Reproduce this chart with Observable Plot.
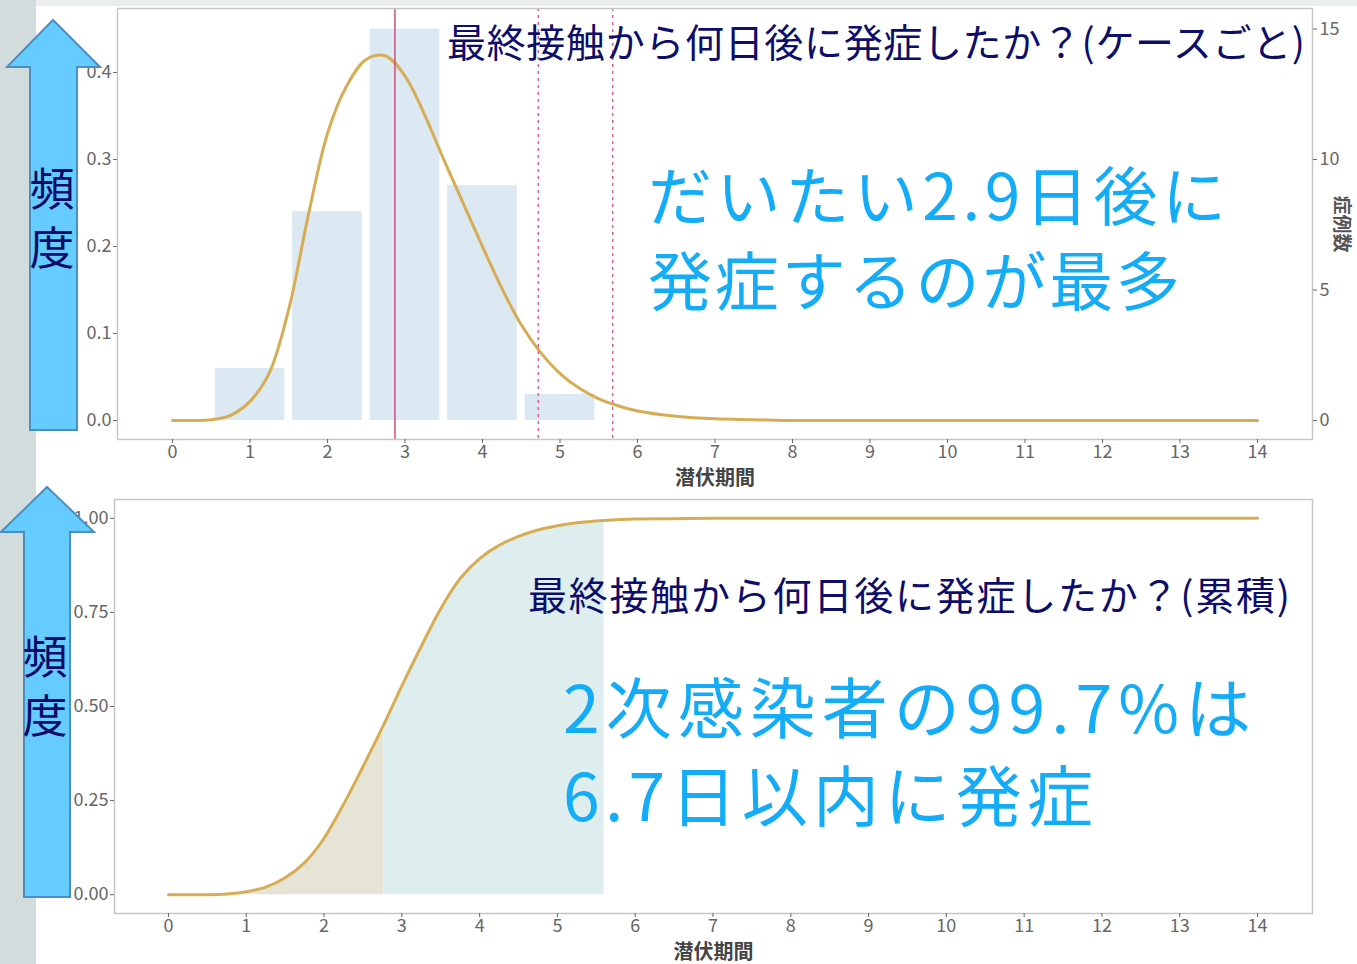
<!DOCTYPE html>
<html>
<head>
<meta charset="utf-8">
<script src="https://cdn.jsdelivr.net/npm/d3@7"></script>
<script src="https://cdn.jsdelivr.net/npm/@observablehq/plot@0.6"></script>
<style>
html, body { margin: 0; padding: 0; background: #fff; overflow: hidden; }
#page { position: relative; width: 1357px; height: 964px; background: #fff; font-family: "Noto Sans CJK JP", sans-serif; }
#strip { position: absolute; left: 0; top: 0; width: 36px; height: 964px; background: #d3dcdc; }
#topband { position: absolute; left: 36px; top: 0; width: 1321px; height: 6px; background: #eceeee; }
#topChart { position: absolute; left: 0; top: 0; }
#bottomChart { position: absolute; left: 0; top: 480px; }
#overlay { position: absolute; left: 0; top: 0; pointer-events: none; }
#overlay text { font-family: "Noto Sans CJK JP", sans-serif; dominant-baseline: central; }
#overlay text.vert { writing-mode: vertical-rl; text-orientation: upright; }
</style>
</head>
<body>
<div id="page">
  <div id="strip"></div>
  <div id="topband"></div>
  <div id="topChart"></div>
  <div id="bottomChart"></div>
  <svg id="overlay" width="1357" height="964"></svg>
</div>
<script>
// ---------- data ----------
const barDays = [1, 2, 3, 4, 5];
const caseCounts = [2, 8, 15, 9, 1];
const countToDensity = 0.03;          // secondary (right) axis factor: density per case
const modeDay = [2.87];               // solid vertical line
const dashedDays = [4.72, 5.68];      // dotted vertical lines

const pdfX = [0, 0.25, 0.5, 0.75, 1, 1.25, 1.5, 1.75, 2, 2.25, 2.5, 2.75, 3, 3.25, 3.5, 3.75, 4, 4.25, 4.5, 4.75, 5, 5.25, 5.5, 5.75, 6, 6.5, 7, 7.5, 8, 9, 10, 11, 12, 13, 14];
const pdfY = [0, 0, 0.001, 0.006, 0.022, 0.055, 0.128, 0.235, 0.330, 0.385, 0.415, 0.419, 0.396, 0.352, 0.300, 0.250, 0.200, 0.152, 0.110, 0.078, 0.054, 0.037, 0.025, 0.017, 0.011, 0.005, 0.002, 0.001, 0, 0, 0, 0, 0, 0, 0];

const cdfX = [0, 0.25, 0.5, 0.75, 1, 1.25, 1.5, 1.75, 2, 2.25, 2.5, 2.77, 3, 3.25, 3.5, 3.75, 4, 4.25, 4.5, 4.75, 5, 5.25, 5.6, 6, 6.5, 7, 8, 9, 10, 11, 12, 13, 14];
const cdfY = [0, 0, 0, 0.002, 0.008, 0.02, 0.045, 0.085, 0.15, 0.24, 0.34, 0.453, 0.555, 0.66, 0.76, 0.84, 0.893, 0.928, 0.952, 0.969, 0.98, 0.988, 0.994, 0.998, 0.999, 1, 1, 1, 1, 1, 1, 1, 1];
const shadeSplit = 2.77;
const shadeEnd = 5.6;

const xTicks = [0, 1, 2, 3, 4, 5, 6, 7, 8, 9, 10, 11, 12, 13, 14];
const densityTicks = [0, 0.1, 0.2, 0.3, 0.4];
const countTicks = [0, 5, 10, 15];
const cumTicks = [0, 0.25, 0.5, 0.75, 1];

const xTitle = "潜伏期間";
const rightTitle = "症例数";
const yArrowLabel = "頻度";
const titles = ["最終接触から何日後に発症したか？(ケースごと)", "最終接触から何日後に発症したか？(累積)"];
const topNotes = ["だいたい2.9日後に", "発症するのが最多"];
const bottomNotes = ["2次感染者の99.7%は", "6.7日以内に発症"];

// ---------- tables ----------
const bars = barDays.map((day, i) => ({day, count: caseCounts[i]}));
const pdf = pdfX.map((x, i) => ({x, y: pdfY[i]}));
const cdf = cdfX.map((x, i) => ({x, y: cdfY[i]}));

const font = '"Noto Sans CJK JP", sans-serif';
const baseStyle = {background: "transparent", color: "#666", fontFamily: font, fontSize: "18px"};
const k = countToDensity;
const curveColor = "#d6ad55";

const topPlot = Plot.plot({
  width: 1357, height: 490,
  marginLeft: 117, marginRight: 45, marginTop: 8, marginBottom: 51,
  style: baseStyle,
  x: {domain: [-0.71, 14.71]},
  y: {domain: [-0.0218, 0.4736]},
  marks: [
    Plot.rectY(bars, {x1: d => d.day - 0.45, x2: d => d.day + 0.45, y1: 0, y2: d => d.count * k, fill: "#dce9f2"}),
    Plot.lineY(pdf, {x: "x", y: "y", stroke: curveColor, strokeWidth: 3, curve: "catmull-rom"}),
    Plot.ruleX(modeDay, {stroke: "#c8507a", strokeWidth: 1.5}),
    Plot.ruleX(dashedDays, {stroke: "#e0609a", strokeWidth: 1.5, strokeDasharray: "3,4"}),
    Plot.frame({stroke: "#c6c6c6", strokeWidth: 1.5}),
    Plot.axisX({ticks: xTicks, tickSize: 4, tickPadding: 2, label: null, tickFormat: d3.format("d")}),
    Plot.axisY({ticks: densityTicks, tickSize: 4, tickPadding: 2, label: null, tickFormat: d3.format(".1f")}),
    Plot.axisY({anchor: "right", ticks: countTicks.map(c => c * k), tickFormat: d => String(Math.round(d / k)), tickSize: 4, tickPadding: 3, label: null}),
    Plot.text([xTitle], {text: d => d, frameAnchor: "bottom", lineAnchor: "middle", dy: 39, fontSize: 20, fontWeight: "bold", fill: "#444"}),
    Plot.text([rightTitle], {text: d => d, frameAnchor: "right", textAnchor: "middle", lineAnchor: "middle", dx: 29, rotate: 90, fontSize: 19, fontWeight: "bold", fill: "#555"})
  ]
});
document.getElementById("topChart").appendChild(topPlot);

const bottomPlot = Plot.plot({
  width: 1357, height: 484,
  marginLeft: 114, marginRight: 45, marginTop: 19, marginBottom: 51,
  style: baseStyle,
  x: {domain: [-0.694, 14.707]},
  y: {domain: [-0.05, 1.05]},
  marks: [
    Plot.areaY(cdf.filter(d => d.x <= shadeSplit), {x: "x", y: "y", fill: "#e5e4d6", curve: "catmull-rom"}),
    Plot.areaY(cdf.filter(d => d.x >= shadeSplit && d.x <= shadeEnd), {x: "x", y: "y", fill: "#deeeee", curve: "catmull-rom"}),
    Plot.lineY(cdf, {x: "x", y: "y", stroke: curveColor, strokeWidth: 3, curve: "catmull-rom"}),
    Plot.frame({stroke: "#c6c6c6", strokeWidth: 1.5}),
    Plot.axisX({ticks: xTicks, tickSize: 4, tickPadding: 2, label: null, tickFormat: d3.format("d")}),
    Plot.axisY({ticks: cumTicks, tickSize: 4, tickPadding: 2, label: null, tickFormat: d3.format(".2f")}),
    Plot.text([xTitle], {text: d => d, frameAnchor: "bottom", lineAnchor: "middle", dy: 39, fontSize: 20, fontWeight: "bold", fill: "#444"})
  ]
});
document.getElementById("bottomChart").appendChild(bottomPlot);

// ---------- slide overlays (arrows and annotation text) ----------
const ov = d3.select("#overlay");
const arrows = [
  "53,20 100,67 77,67 77,430 30,430 30,67 7,67",
  "47,487 94,532 70,532 70,897 24,897 24,532 1,532"
];
arrows.forEach(p => ov.append("polygon").attr("points", p).attr("fill", "#66ccff").attr("stroke", "#4a8fc2").attr("stroke-width", 2));

const arrowText = [
  {cx: 52, top: 166},
  {cx: 45, top: 634}
];
arrowText.forEach(a =>
  ov.append("text").attr("class", "vert").attr("x", a.cx).attr("y", a.top)
    .attr("textLength", 104).attr("lengthAdjust", "spacing")
    .attr("font-size", 45).attr("fill", "#0c0c6a").text(yArrowLabel));

const textLayout = [
  {t: titles[0], x: 447, y: 40, len: 858, size: 39, fill: "#0d0d6b"},
  {t: titles[1], x: 528, y: 593, len: 762, size: 39, fill: "#0d0d6b"},
  {t: topNotes[0], x: 648, y: 192, len: 578, size: 64, fill: "#14abf7"},
  {t: topNotes[1], x: 648, y: 277, len: 532, size: 64, fill: "#14abf7"},
  {t: bottomNotes[0], x: 563, y: 704, len: 688, size: 66, fill: "#14abf7"},
  {t: bottomNotes[1], x: 563, y: 792, len: 530, size: 66, fill: "#14abf7"}
];
textLayout.forEach(o =>
  ov.append("text").attr("x", o.x).attr("y", o.y).attr("textLength", o.len).attr("lengthAdjust", "spacing")
    .attr("font-size", o.size).attr("fill", o.fill).text(o.t));
</script>
</body>
</html>
